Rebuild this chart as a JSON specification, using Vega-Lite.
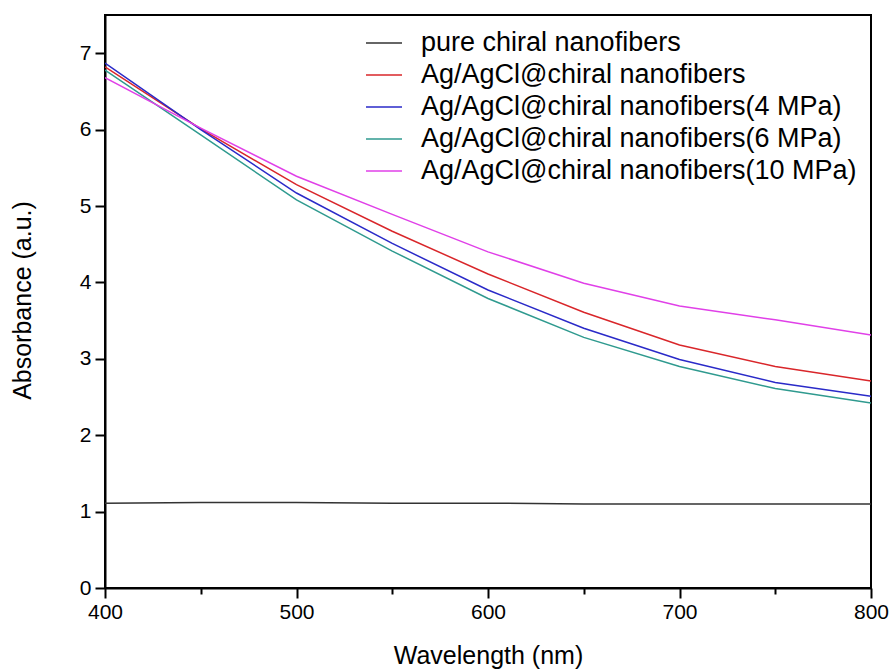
{
  "$schema": "https://vega.github.io/schema/vega-lite/v6.json",
  "autosize": "none",
  "width": 766,
  "height": 573,
  "padding": {"left": 105, "top": 15, "right": 22, "bottom": 83},
  "background": "white",
  "config": {
    "font": "Liberation Sans",
    "view": {"stroke": "black", "strokeWidth": 2},
    "axis": {"grid": false, "domainColor": "black", "domainWidth": 2, "tickColor": "black", "tickWidth": 2, "labelColor": "black", "titleColor": "black", "labelFont": "Liberation Sans", "titleFont": "Liberation Sans", "titleFontWeight": "normal", "labelFontSize": 21, "titleFontSize": 25}
  },
  "data": {
    "values": [
      {"wl": 400, "a": 1.11, "s": "pure chiral nanofibers"},
      {"wl": 450, "a": 1.12, "s": "pure chiral nanofibers"},
      {"wl": 500, "a": 1.12, "s": "pure chiral nanofibers"},
      {"wl": 550, "a": 1.11, "s": "pure chiral nanofibers"},
      {"wl": 600, "a": 1.11, "s": "pure chiral nanofibers"},
      {"wl": 650, "a": 1.10, "s": "pure chiral nanofibers"},
      {"wl": 700, "a": 1.10, "s": "pure chiral nanofibers"},
      {"wl": 750, "a": 1.10, "s": "pure chiral nanofibers"},
      {"wl": 800, "a": 1.10, "s": "pure chiral nanofibers"},
      {"wl": 400, "a": 6.82, "s": "Ag/AgCl@chiral nanofibers"},
      {"wl": 450, "a": 6.01, "s": "Ag/AgCl@chiral nanofibers"},
      {"wl": 500, "a": 5.28, "s": "Ag/AgCl@chiral nanofibers"},
      {"wl": 550, "a": 4.67, "s": "Ag/AgCl@chiral nanofibers"},
      {"wl": 600, "a": 4.11, "s": "Ag/AgCl@chiral nanofibers"},
      {"wl": 650, "a": 3.61, "s": "Ag/AgCl@chiral nanofibers"},
      {"wl": 700, "a": 3.18, "s": "Ag/AgCl@chiral nanofibers"},
      {"wl": 750, "a": 2.90, "s": "Ag/AgCl@chiral nanofibers"},
      {"wl": 800, "a": 2.71, "s": "Ag/AgCl@chiral nanofibers"},
      {"wl": 400, "a": 6.87, "s": "Ag/AgCl@chiral nanofibers(4 MPa)"},
      {"wl": 450, "a": 6.00, "s": "Ag/AgCl@chiral nanofibers(4 MPa)"},
      {"wl": 500, "a": 5.17, "s": "Ag/AgCl@chiral nanofibers(4 MPa)"},
      {"wl": 550, "a": 4.51, "s": "Ag/AgCl@chiral nanofibers(4 MPa)"},
      {"wl": 600, "a": 3.90, "s": "Ag/AgCl@chiral nanofibers(4 MPa)"},
      {"wl": 650, "a": 3.40, "s": "Ag/AgCl@chiral nanofibers(4 MPa)"},
      {"wl": 700, "a": 2.99, "s": "Ag/AgCl@chiral nanofibers(4 MPa)"},
      {"wl": 750, "a": 2.69, "s": "Ag/AgCl@chiral nanofibers(4 MPa)"},
      {"wl": 800, "a": 2.51, "s": "Ag/AgCl@chiral nanofibers(4 MPa)"},
      {"wl": 400, "a": 6.78, "s": "Ag/AgCl@chiral nanofibers(6 MPa)"},
      {"wl": 450, "a": 5.93, "s": "Ag/AgCl@chiral nanofibers(6 MPa)"},
      {"wl": 500, "a": 5.08, "s": "Ag/AgCl@chiral nanofibers(6 MPa)"},
      {"wl": 550, "a": 4.41, "s": "Ag/AgCl@chiral nanofibers(6 MPa)"},
      {"wl": 600, "a": 3.79, "s": "Ag/AgCl@chiral nanofibers(6 MPa)"},
      {"wl": 650, "a": 3.28, "s": "Ag/AgCl@chiral nanofibers(6 MPa)"},
      {"wl": 700, "a": 2.90, "s": "Ag/AgCl@chiral nanofibers(6 MPa)"},
      {"wl": 750, "a": 2.61, "s": "Ag/AgCl@chiral nanofibers(6 MPa)"},
      {"wl": 800, "a": 2.42, "s": "Ag/AgCl@chiral nanofibers(6 MPa)"},
      {"wl": 400, "a": 6.68, "s": "Ag/AgCl@chiral nanofibers(10 MPa)"},
      {"wl": 450, "a": 6.02, "s": "Ag/AgCl@chiral nanofibers(10 MPa)"},
      {"wl": 500, "a": 5.39, "s": "Ag/AgCl@chiral nanofibers(10 MPa)"},
      {"wl": 550, "a": 4.89, "s": "Ag/AgCl@chiral nanofibers(10 MPa)"},
      {"wl": 600, "a": 4.40, "s": "Ag/AgCl@chiral nanofibers(10 MPa)"},
      {"wl": 650, "a": 3.99, "s": "Ag/AgCl@chiral nanofibers(10 MPa)"},
      {"wl": 700, "a": 3.69, "s": "Ag/AgCl@chiral nanofibers(10 MPa)"},
      {"wl": 750, "a": 3.51, "s": "Ag/AgCl@chiral nanofibers(10 MPa)"},
      {"wl": 800, "a": 3.31, "s": "Ag/AgCl@chiral nanofibers(10 MPa)"}
    ]
  },
  "mark": {"type": "line", "strokeWidth": 1.5, "clip": true},
  "encoding": {
    "x": {
      "field": "wl", "type": "quantitative",
      "scale": {"domain": [400, 800], "nice": false, "zero": false},
      "axis": {
        "title": "Wavelength (nm)",
        "values": [400, 450, 500, 550, 600, 650, 700, 750, 800],
        "labelExpr": "datum.value % 100 === 0 ? datum.label : ''",
        "tickSize": {"condition": {"test": "datum.value % 100 !== 0", "value": 6}, "value": 10},
        "labelFlush": false,
        "labelPadding": 3,
        "titleY": 67,
        "titleBaseline": "middle",
        "format": "d"
      }
    },
    "y": {
      "field": "a", "type": "quantitative",
      "scale": {"domain": [0, 7.5], "nice": false},
      "axis": {
        "title": "Absorbance (a.u.)",
        "values": [0, 0.5, 1, 1.5, 2, 2.5, 3, 3.5, 4, 4.5, 5, 5.5, 6, 6.5, 7],
        "labelExpr": "datum.value % 1 === 0 ? datum.label : ''",
        "tickSize": {"condition": {"test": "datum.value % 1 !== 0", "value": 6}, "value": 10},
        "labelFlush": false,
        "labelPadding": 4,
        "format": "d",
        "titleX": -83,
        "titleY": 285,
        "titleBaseline": "middle"
      }
    },
    "color": {
      "field": "s", "type": "nominal",
      "sort": ["pure chiral nanofibers", "Ag/AgCl@chiral nanofibers", "Ag/AgCl@chiral nanofibers(4 MPa)", "Ag/AgCl@chiral nanofibers(6 MPa)", "Ag/AgCl@chiral nanofibers(10 MPa)"],
      "scale": {
        "domain": ["pure chiral nanofibers", "Ag/AgCl@chiral nanofibers", "Ag/AgCl@chiral nanofibers(4 MPa)", "Ag/AgCl@chiral nanofibers(6 MPa)", "Ag/AgCl@chiral nanofibers(10 MPa)"],
        "range": ["#333333", "#d9262a", "#2a2ac8", "#2f9a8f", "#e040e8"]
      },
      "legend": {
        "title": null,
        "orient": "none",
        "legendX": 260,
        "legendY": 9,
        "symbolType": "stroke",
        "symbolSize": 1300,
        "symbolStrokeWidth": 1.5,
        "labelFontSize": 27,
        "labelFont": "Liberation Sans",
        "labelColor": "black",
        "rowPadding": 0,
        "labelOffset": 18,
        "labelLimit": 700
      }
    }
  }
}
